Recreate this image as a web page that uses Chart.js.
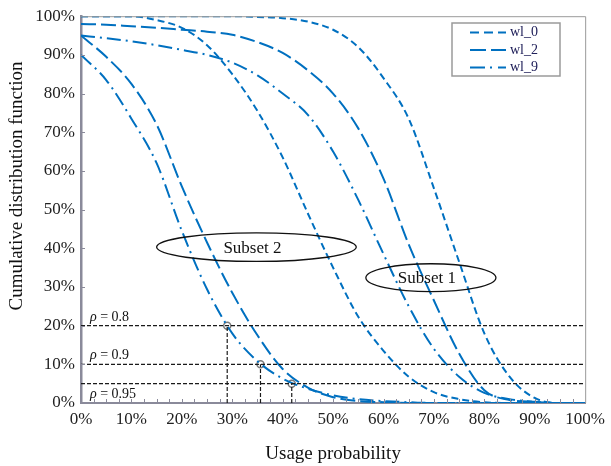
<!DOCTYPE html>
<html>
<head>
<meta charset="utf-8">
<script src="https://cdn.jsdelivr.net/npm/chart.js@4.4.1/dist/chart.umd.min.js"></script>
<style>
html, body { margin: 0; padding: 0; background: #fff; }
#wrap { width: 611px; height: 466px; }
</style>
</head>
<body>
<div id="wrap"><canvas id="cdfChart"></canvas></div>
<script>
// usage probability (%) sampled every 5%
const usage = [0, 5, 10, 15, 20, 25, 30, 35, 40, 45, 50, 55, 60, 65, 70, 75, 80, 85, 90, 95, 100];

// Subset 1
const s1_wl0 = [100, 100, 100, 100, 100, 100, 100, 99.8, 99.5, 98.6, 96.5, 92, 84, 73.5, 55.5, 36.5, 18, 6.8, 1.3, 0, 0];
const s1_wl2 = [98, 97.8, 97.4, 97, 96.5, 96, 95.2, 93.3, 90.5, 86, 80, 71, 58, 41, 26.5, 12.8, 3.3, 0.8, 0.3, 0, 0];
const s1_wl9 = [95, 94.3, 93.5, 92.5, 91.3, 90, 88, 84.7, 80, 74.5, 65, 52.5, 38.5, 25, 14, 6.8, 2.6, 1, 0.3, 0, 0];
// Subset 2
const s2_wl0 = [100, 100, 100, 99, 97, 92.5, 85, 75.5, 63.5, 49, 35, 22.3, 13.5, 6.8, 2.8, 1, 0.2, 0, 0, 0, 0];
const s2_wl2 = [95, 89.5, 82.5, 72, 56, 41.5, 28.5, 17.5, 8.8, 4, 1.5, 0.5, 0.2, 0, 0, 0, 0, 0, 0, 0, 0];
const s2_wl9 = [90, 83.5, 73.5, 62, 44.5, 29.4, 18, 10.8, 6.3, 3.7, 2, 1, 0.5, 0.2, 0, 0, 0, 0, 0, 0, 0];

// rho thresholds and the points where wl_9 of subset 2 crosses them
const thresholds = [20, 10, 5];
const rhoLabels = ['0.8', '0.9', '0.95'];
const markerX = [29, 35.6, 41.8];
const markerY = [20, 10, 5];

const serif = '"Liberation Serif", "Times New Roman", serif';
const blue = '#0070c0';
const dashes = { wl_0: [7, 4], wl_2: [15, 5], wl_9: [14, 5, 2, 5] };

const curve = (label, values, dash) => ({
    label: label,
    data: values.map((v, i) => ({ x: usage[i], y: v })),
    borderColor: blue,
    borderWidth: 2,
    borderDash: dash,
    pointRadius: 0,
    cubicInterpolationMode: 'monotone',
    fill: false
});

const refLine = (points) => ({
    data: points,
    borderColor: '#1a1a1a',
    borderWidth: 1.2,
    borderDash: [4, 2],
    pointRadius: 0,
    fill: false
});

const datasets = [];
thresholds.forEach(t => datasets.push(refLine([{ x: 0, y: t }, { x: 100, y: t }])));
markerX.forEach((mx, i) => datasets.push(refLine([{ x: mx, y: 0 }, { x: mx, y: markerY[i] }])));
datasets.push(curve('Subset 1 wl_0', s1_wl0, dashes.wl_0));
datasets.push(curve('Subset 1 wl_2', s1_wl2, dashes.wl_2));
datasets.push(curve('Subset 1 wl_9', s1_wl9, dashes.wl_9));
datasets.push(curve('Subset 2 wl_0', s2_wl0, dashes.wl_0));
datasets.push(curve('Subset 2 wl_2', s2_wl2, dashes.wl_2));
datasets.push(curve('Subset 2 wl_9', s2_wl9, dashes.wl_9));
datasets.push({
    type: 'scatter',
    data: markerX.map((mx, i) => ({ x: mx, y: markerY[i] })),
    pointRadius: 3.5,
    pointBackgroundColor: '#ffffff',
    pointBorderColor: '#7a7a7a',
    pointBorderWidth: 1.5,
    showLine: false
});

const decorations = {
    id: 'decorations',
    afterDatasetsDraw(chart) {
        const { ctx, chartArea: a, scales: { x, y } } = chart;
        ctx.save();

        // frame on top and right
        ctx.strokeStyle = '#9a9a9a';
        ctx.lineWidth = 1;
        ctx.beginPath();
        ctx.moveTo(a.left, a.top + 0.5);
        ctx.lineTo(a.right + 0.5, a.top + 0.5);
        ctx.lineTo(a.right + 0.5, a.bottom);
        ctx.stroke();

        // inner tick marks
        ctx.strokeStyle = '#8a8a9a';
        ctx.beginPath();
        for (let v = 2.5; v < 100; v += 2.5) {
            const px = Math.round(x.getPixelForValue(v)) + 0.5;
            ctx.moveTo(px, a.bottom);
            ctx.lineTo(px, a.bottom - 4);
        }
        for (let v = 10; v < 100; v += 10) {
            const py = Math.round(y.getPixelForValue(v)) + 0.5;
            ctx.moveTo(a.left, py);
            ctx.lineTo(a.left + 4, py);
        }
        ctx.stroke();

        // rho labels
        ctx.fillStyle = '#111';
        ctx.textBaseline = 'alphabetic';
        ctx.textAlign = 'left';
        const rhoRows = [20, 10, 0];
        rhoRows.forEach((row, i) => {
            const py = y.getPixelForValue(row) - 5;
            const px = a.left + 9;
            ctx.font = 'italic 14px ' + serif;
            ctx.fillText('\u03c1', px, py);
            const w = ctx.measureText('\u03c1').width;
            ctx.font = '14px ' + serif;
            ctx.fillText(' = ' + rhoLabels[i], px + w, py);
        });

        // subset ellipses
        const ellipse = (cx, cy, rx, ry, text) => {
            const px = x.getPixelForValue(cx);
            const py = y.getPixelForValue(cy);
            const prx = x.getPixelForValue(cx + rx) - px;
            const pry = py - y.getPixelForValue(cy + ry);
            ctx.strokeStyle = '#111';
            ctx.lineWidth = 1.3;
            ctx.beginPath();
            ctx.ellipse(px, py, prx, pry, 0, 0, Math.PI * 2);
            ctx.stroke();
            ctx.font = '17px ' + serif;
            ctx.fillStyle = '#111';
            ctx.textAlign = 'center';
            ctx.textBaseline = 'middle';
            ctx.fillText(text, px - 4, py + 1);
        };
        ellipse(34.8, 40.3, 19.8, 3.7, 'Subset 2');
        ellipse(69.4, 32.4, 12.9, 3.6, 'Subset 1');

        // legend
        const lx = 452, ly = 23, lw = 108, lh = 53;
        ctx.fillStyle = '#fff';
        ctx.fillRect(lx, ly, lw, lh);
        ctx.strokeStyle = '#9a9a9a';
        ctx.lineWidth = 1.5;
        ctx.strokeRect(lx, ly, lw, lh);
        const names = ['wl_0', 'wl_2', 'wl_9'];
        names.forEach((name, i) => {
            const ry = ly + 9.5 + i * 17.5;
            ctx.strokeStyle = blue;
            ctx.lineWidth = 2;
            ctx.setLineDash(name === 'wl_0' ? [9, 5] : name === 'wl_2' ? [16, 5] : [15, 5, 2, 6]);
            ctx.beginPath();
            ctx.moveTo(lx + 18, ry);
            ctx.lineTo(lx + 54, ry);
            ctx.stroke();
            ctx.setLineDash([]);
            ctx.font = '14px ' + serif;
            ctx.fillStyle = '#20205a';
            ctx.textAlign = 'left';
            ctx.textBaseline = 'middle';
            ctx.fillText(name, lx + 58, ry);
        });

        // y axis title
        ctx.translate(17, 186);
        ctx.rotate(-Math.PI / 2);
        ctx.font = '19px ' + serif;
        ctx.fillStyle = '#111';
        ctx.textAlign = 'center';
        ctx.textBaseline = 'middle';
        ctx.fillText('Cumulative distribution function', 0, 0);

        ctx.restore();
    }
};

const tickFont = { family: serif, size: 17 };

new Chart(document.getElementById('cdfChart'), {
    type: 'line',
    data: { datasets: datasets },
    options: {
        responsive: true,
        maintainAspectRatio: false,
        animation: false,
        layout: { padding: { top: 12, right: 25, left: 0, bottom: 0 } },
        plugins: {
            legend: { display: false },
            tooltip: { enabled: false }
        },
        scales: {
            x: {
                type: 'linear',
                min: 0,
                max: 100,
                ticks: { stepSize: 10, callback: v => v + '%', font: tickFont, color: '#222', padding: 6, maxRotation: 0 },
                grid: { display: false, drawTicks: false },
                border: { display: true, color: '#8a8a9a', width: 2 },
                title: { display: true, text: 'Usage probability', font: { family: serif, size: 19 }, color: '#111', padding: { top: 0, bottom: 1 } },
                afterFit: s => { s.height = 63; }
            },
            y: {
                min: 0,
                max: 100,
                ticks: { stepSize: 10, callback: v => v + '%', font: tickFont, color: '#222', padding: 6 },
                grid: { display: false, drawTicks: false },
                border: { display: true, color: '#8a8a9a', width: 2.5 },
                afterFit: s => { s.width = 81; }
            }
        }
    },
    plugins: [decorations]
});
</script>
</body>
</html>
